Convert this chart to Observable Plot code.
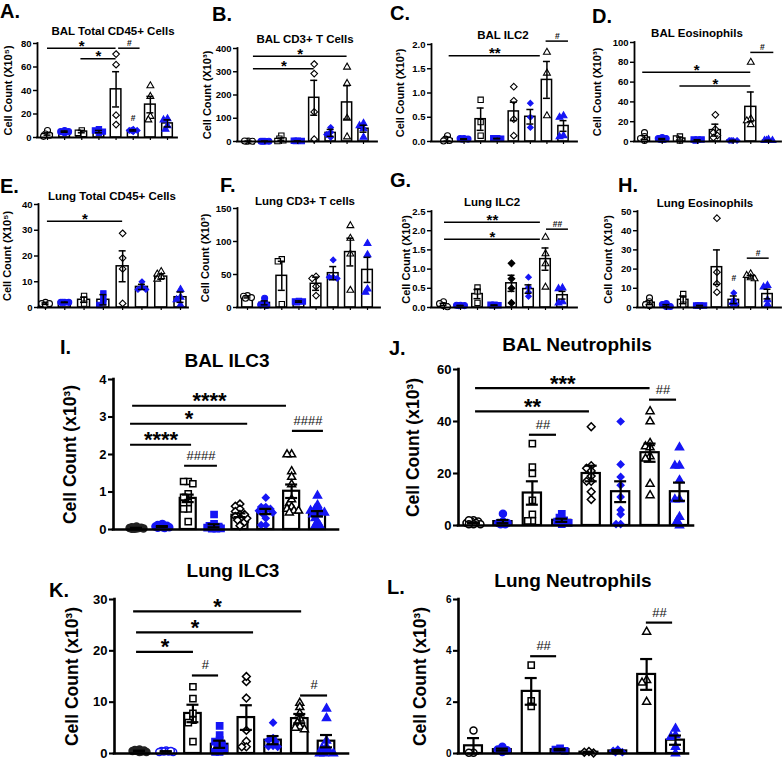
<!DOCTYPE html>
<html><head><meta charset="utf-8">
<script src="https://cdn.jsdelivr.net/npm/d3@7"></script>
<script src="https://cdn.jsdelivr.net/npm/@observablehq/plot@0.6"></script>
<style>
body{margin:0;background:#fff;}
#root{position:relative;width:783px;height:760px;overflow:hidden;background:#fff;}
</style></head><body><div id="root"></div>
<script>
// ---------------- DATA ----------------
const groups = [1,2,3,4,5,6,7,8];

const A_title = "BAL Total CD45+ Cells", A_ylabel = "Cell Count (X10⁵)", A_ticks = [0,20,40,60,80];
const A_mean = [3,5,5,5,41,6,28,12];
const A_sem  = [1,0.5,1,1,15,0.5,7,3];
const A_pts  = [[6,3,2,1],[6,5,4,5],[6,4,3],[7,6,5,4],[71,62,19,11],[6,6,5,6,7],[44,35,18,15],[16,15,10,7]];
const A_sig  = [[1,5,76,"*"],[2.95,5,67,"*"],[5.15,6.4,76,"#"],[6,6,16,"#"]];

const B_title = "BAL CD3+ T Cells", B_ylabel = "Cell Count (X10³)", B_ticks = [0,100,200,300,400];
const B_mean = [1,1,10,2,188,37,168,55];
const B_sem  = [0.5,0.3,5,0.5,75,15,72,15];
const B_pts  = [[2,1,1,2],[1,1,1,1],[25,12,5,2],[3,2,2,3],[333,292,127,10],[60,40,30,18],[320,250,100,20],[78,68,55,18]];
const B_sig  = [[1.3,7,367,"*"],[1.3,5,313,"*"]];

const C_title = "BAL ILC2", C_ylabel = "Cell Count (X10³)", C_ticks = [0,0.5,1,1.5,2];
const C_mean = [0.05,0.05,0.46,0.06,0.62,0.51,1.27,0.32];
const C_sem  = [0.04,0.005,0.23,0.005,0.19,0.15,0.38,0.11];
const C_pts  = [[0.12,0.05,0.02,0.01],[0.06,0.05,0.05,0.06],[0.86,0.4,0.12],[0.07,0.06,0.07,0.06],[1.13,0.84,0.46,0.12],[0.79,0.5,0.29],[1.84,1.41,0.53],[0.53,0.5,0.12,0.1]];
const C_sig  = [[1.1,6.6,1.77,"**"],[6.95,8.3,2.07,"#"]];

const D_title = "BAL Eosinophils", D_ylabel = "Cell Count (X10³)", D_ticks = [0,20,40,60,80,100];
const D_mean = [4,2.5,3,1.5,11.5,1,35,1];
const D_sem  = [2,0.5,1.5,0.3,6,0.2,15,0.3];
const D_pts  = [[9,5,3,1],[3,2,3,2,4],[5,3,1],[2,2,1,2],[27,12.5,9,6,4],[1,1,1,1],[80,23,21,17],[1,1,2,1]];
const D_sig  = [[0.9,7,70,"*"],[3,7,56,"*"],[7,8.3,90,"#"]];

const E_title = "Lung Total CD45+ Cells", E_ylabel = "Cell Count (X10⁵)", E_ticks = [0,10,20,30,40];
const E_mean = [1.5,2,3,3,16,8,12,4];
const E_sem  = [0.3,0.1,1,2,6,1,1,2];
const E_pts  = [[2,1.5,1,1.5],[2,2,2,2],[4.5,3,1.5],[5.5,3.5,1,2],[28.8,19.2,15,1.6],[10,8,7,7],[14,13,12,11],[7,4,1,3]];
const E_sig  = [[1.1,5,33.5,"*"]];

const F_title = "Lung CD3+ T cells", F_ylabel = "Cell Count (X10³)", F_ticks = [0,50,100,150];
const F_mean = [16,7,48,9,36,52,84,57];
const F_sem  = [1.5,3,22,1,10,10,21,19];
const F_pts  = [[18,17,15,14],[14,8,4,3],[73,70,5],[10,9,8,9],[47,44,32,18],[72,46,44,46],[124,105,81,26],[97,80,28,23]];
const F_sig  = [];

const G_title = "Lung ILC2", G_ylabel = "Cell Count (X10³)", G_ticks = [0,0.5,1,1.5,2,2.5];
const G_mean = [0.08,0.05,0.35,0.06,0.63,0.48,1.26,0.32];
const G_sem  = [0.03,0.005,0.12,0.005,0.21,0.11,0.29,0.1];
const G_pts  = [[0.15,0.1,0.05,0.02],[0.06,0.05,0.05,0.06],[0.52,0.42,0.12],[0.07,0.06,0.06,0.07],[1.15,0.75,0.5,0.12],[0.79,0.53,0.4,0.29],[1.83,1.4,1.14,0.53],[0.51,0.49,0.15,0.12]];
const G_sig  = [[1.06,6.7,2.22,"**"],[1.06,6.7,1.78,"*"],[7.06,8.35,2.04,"##"]];

const H_title = "Lung Eosinophils", H_ylabel = "Cell Count (X10³)", H_ticks = [0,10,20,30,40,50];
const H_mean = [2.5,1,4,1,21,4,16,7];
const H_sem  = [1,0.5,2,0.1,9,2,0.7,2.5];
const H_pts  = [[5,3,1.5,1],[2,1.5,0.5,0.5],[7,4,1.5],[1,1,1,1],[46.5,18.4,12.4,8],[7.6,3.8,2,1.7],[17.6,16.7,15,15.5],[11.5,10.7,4,1.7]];
const H_sig  = [[6.8,8.1,25.7,"#"],[6,6,15,"#"]];

const I_title = "BAL ILC3", I_ylabel = "Cell Count (x10³)", I_ticks = [0,1,2,3,4];
const I_mean = [0.04,0.08,0.83,0.1,0.38,0.48,1.02,0.42];
const I_sem  = [0.005,0.01,0.1,0.04,0.05,0.07,0.18,0.07];
const I_pts  = [[0.08,0.05,0.04,0.03,0.02,0.02,0.06,0.04,0.03,0.05],[0.15,0.12,0.1,0.08,0.06,0.05,0.04,0.1,0.06],
  [1.28,1.22,1.28,0.95,0.86,0.72,0.7,0.55,0.55,0.21],[0.4,0.15,0.1,0.08,0.05,0.05,0.03,0.02,0.02],
  [0.68,0.62,0.55,0.48,0.4,0.35,0.3,0.25,0.2,0.1,0.3,0.4],[0.85,0.6,0.55,0.5,0.5,0.45,0.4,0.3,0.12,0.12,0.55,0.6],
  [2.0,2.0,1.55,1.4,1.2,0.7,0.6,0.55,0.5,0.45,0.5,0.8],[0.9,0.65,0.55,0.5,0.45,0.4,0.3,0.2,0.1,0.1,0.5,0.4]];
const I_sig  = [[0.85,6.8,3.3,"****"],[0.77,5.3,2.82,"*"],[0.77,3.13,2.26,"****"],[2.86,4.13,1.7,"####"],[7.03,8.23,2.63,"####"]];

const J_title = "BAL Neutrophils", J_ylabel = "Cell Count (x10³)", J_ticks = [0,20,40,60];
const J_mean = [1,1.5,12.5,2,20,13,28,13];
const J_sem  = [0.2,0.6,4.5,0.6,3,4,3.5,3.5];
const J_pts  = [[2,1.5,1,0.5,1,1.5,0.5,2,0.5],[4.5,1.5,1,0.5,0.5,1],[31.5,22.5,20,9.7,4.3,1.8,1.8],[4.5,3,2,1.5,0.5,1],
  [38,23,22,21,19,17,13,10,17],[40,23.5,18.7,15.5,11,6,4.3,0.5,0.5],[43.9,40,31.7,30.4,30,26.6,25.7,16,11.6],[30,23,23,17.4,10,10,3.3,1.8,0]];
const J_sig  = [[1.07,7,52.8,"***"],[1.07,4.94,43.9,"**"],[2.9,3.82,34.9,"##"],[6.98,7.9,48.4,"##"]];

const K_title = "Lung ILC3", K_ylabel = "Cell Count (x10³)", K_ticks = [0,10,20,30];
const K_mean = [0.5,0.4,7.8,1.8,7,2.6,6.8,2.4];
const K_sem  = [0.05,0.05,1.7,0.7,2.4,0.8,0.9,1.2];
const K_pts  = [[0.8,0.6,0.5,0.4,0.3,0.5,0.7,0.3],[0.6,0.5,0.4,0.3,0.3,0.4,0.5],[13,10.7,7.8,6.5,6,2.3],[5.4,3.6,2.6,1.8,1,0.3,0.3,1.3,2.3],
  [14,15,10.8,4.5,2.4,1.3,1.3],[6,3,2.6,1.4,2.3,1.5,1.3],[9.85,9,7.8,6.8,6,5.2,4.7,5],[8.75,6.9,2.5,1,0,0,0,0.5,1.3]];
const K_sig  = [[0.78,7.07,27.7,"*"],[0.89,5.27,23.6,"*"],[0.89,3.02,19.8,"*"],[2.98,3.96,15.2,"#"],[7.03,8.04,11.3,"#"]];

const L_title = "Lung Neutrophils", L_ylabel = "Cell Count (x10³)", L_ticks = [0,2,4,6];
const L_mean = [0.3,0.15,2.42,0.15,0.05,0.1,3.08,0.52];
const L_sem  = [0.3,0.04,0.52,0.03,0.02,0.03,0.6,0.18];
const L_pts  = [[0.9,0.03,0.03],[0.26,0.16,0.06,0.13],[3.44,2.05,1.84],[0.2,0.15,0.1],[0.08,0.05,0.02],[0.15,0.05,0.05,0.1],[4.74,2.86,2.76,2.01],[0.97,0.71,0.65,0.26,0]];
const L_sig  = [[2.98,3.88,3.79,"##"],[6.99,7.9,5.1,"##"]];

// ---------------- LAYOUT / STYLE ----------------
const BLUE = "#1616f5";
const FONT = "'Liberation Sans', Arial, sans-serif";
const SYM = ["circle","circle","square","square","diamond2","diamond2","triangle","triangle"];
const SYMSCALE = [1,1,1,1,1,0.85,0.85,0.85];

const panels = [
 {id:"A", title:A_title, ylabel:A_ylabel, ticks:A_ticks, mean:A_mean, sem:A_sem, pts:A_pts, sig:A_sig,
  L:37,R:177,b1:47,b8:167,T:43,B:137, tp:[113,34.5], lp:[0,18], labOff:29},
 {id:"B", title:B_title, ylabel:B_ylabel, ticks:B_ticks, mean:B_mean, sem:B_sem, pts:B_pts, sig:B_sig,
  L:237,R:377,b1:248,b8:363,T:48,B:141, tp:[305,42.5], lp:[212,21], labOff:30},
 {id:"C", title:C_title, ylabel:C_ylabel, ticks:C_ticks, mean:C_mean, sem:C_sem, pts:C_pts, sig:C_sig, fmt:".1f",
  L:431,R:577,b1:447,b8:563,T:44,B:141, tp:[503,39], lp:[390,20], labOff:31},
 {id:"D", title:D_title, ylabel:D_ylabel, ticks:D_ticks, mean:D_mean, sem:D_sem, pts:D_pts, sig:D_sig,
  L:634,R:781,b1:644,b8:768,T:42,B:141, tp:[697,36.5], lp:[592,23], labOff:37},
 {id:"E", title:E_title, ylabel:E_ylabel, ticks:E_ticks, mean:E_mean, sem:E_sem, pts:E_pts, sig:E_sig,
  L:38,R:188,b1:45,b8:180,T:204,B:307, tp:[112,200], lp:[0,193], labOff:31},
 {id:"F", title:F_title, ylabel:F_ylabel, ticks:F_ticks, mean:F_mean, sem:F_sem, pts:F_pts, sig:F_sig,
  L:237,R:380,b1:247,b8:367,T:208,B:307, tp:[305,205], lp:[220,192], labOff:32},
 {id:"G", title:G_title, ylabel:G_ylabel, ticks:G_ticks, mean:G_mean, sem:G_sem, pts:G_pts, sig:G_sig, fmt:".1f",
  L:431,R:577,b1:443,b8:562,T:211,B:307, tp:[492,206], lp:[390,187], labOff:25, over:{5:{fill:"black",stroke:"black"}}},
 {id:"H", title:H_title, ylabel:H_ylabel, ticks:H_ticks, mean:H_mean, sem:H_sem, pts:H_pts, sig:H_sig,
  L:637,R:781,b1:649,b8:767,T:211,B:307, tp:[705,207], lp:[618,192], labOff:29},
 {id:"I", title:I_title, ylabel:I_ylabel, ticks:I_ticks, mean:I_mean, sem:I_sem, pts:I_pts, sig:I_sig, big:true,
  L:113,R:338,b1:136,b8:317,T:379,B:529, tp:[227,367], lp:[60,354], labOff:43, over:{1:{fill:"#222",stroke:"#222"}}},
 {id:"J", title:J_title, ylabel:J_ylabel, ticks:J_ticks, mean:J_mean, sem:J_sem, pts:J_pts, sig:J_sig, big:true,
  L:458,R:693,b1:473,b8:679,T:369,B:525, tp:[577,351], lp:[389,355], labOff:45},
 {id:"K", title:K_title, ylabel:K_ylabel, ticks:K_ticks, mean:K_mean, sem:K_sem, pts:K_pts, sig:K_sig, big:true,
  L:114,R:348,b1:139,b8:326,T:599,B:753, tp:[233,577], lp:[49,597], labOff:42,
  over:{1:{fill:"#222",stroke:"#222"},2:{fill:"white",stroke:BLUE}}},
 {id:"L", title:L_title, ylabel:L_ylabel, ticks:L_ticks, mean:L_mean, sem:L_sem, pts:L_pts, sig:L_sig, big:true, tickFont:10,
  L:458,R:688,b1:473,b8:675,T:599,B:753, tp:[573,587], lp:[387,594], labOff:38}
];

// place overlapping points side by side, staying within about the bar's width
function spread(vals, pxY, pxX, r) {
  const order = vals.map((v,i)=>i).sort((a,b)=>vals[b]-vals[a]);
  const placed = [], off = vals.map(()=>0), d = 1.2*r, step = 0.55*d, maxOff = 0.3*pxX;
  const cands = [0];
  for (let k=1; k*step<=maxOff+0.01; k++) { cands.push(-k*step, k*step); }
  for (const i of order) {
    const y = vals[i]*pxY;
    let best = 0, bestD = -1;
    for (const o of cands) {
      const md = placed.length ? Math.min(...placed.map(p=>Math.hypot(p.x-o,p.y-y))) : Infinity;
      if (md >= d) { best = o; bestD = Infinity; break; }
      if (md > bestD) { bestD = md; best = o; }
    }
    off[i] = best/pxX; placed.push({x:best,y});
  }
  return off;
}

const root = document.getElementById("root");

for (const p of panels) {
  const big = !!p.big;
  const sp = (p.b8-p.b1)/7;
  const x0 = 1-(p.b1-p.L)/sp, x1 = 8+(p.R-p.b8)/sp;
  const ymax = p.ticks[p.ticks.length-1];
  const mL=60, mR=10, mT=40, mB=10;
  const W = p.R-p.L+mL+mR, H = p.B-p.T+mT+mB;
  const bw = 0.62, cap = (big?6:3.5)/sp;
  const sw = big?2.2:1.5, axW = big?2.6:1.8;
  const r = big?3.5:3;
  const pxY = (p.B-p.T)/ymax;
  const bars = groups.map((g,i)=>({g, m:p.mean[i], s:p.sem[i]}));
  const dotMarks = groups.map((g,i)=>{
    const vals = p.pts[i];
    const off = spread(vals, pxY, sp, r);
    const data = vals.map((v,j)=>({x:g+off[j], v}));
    const odd = g%2===1;
    let st = odd ? {fill:"white", stroke:"black"} : {fill:BLUE, stroke:BLUE};
    if (p.over && p.over[g]) st = p.over[g];
    return Plot.dot(data, {x:"x", y:"v", symbol:SYM[i], r:r*SYMSCALE[i], fill:st.fill, stroke:st.stroke, strokeWidth: big?1.5:1.1});
  });
  const lines = p.sig.filter(s=>s[0]!==s[1]).map(s=>({x1:s[0],x2:s[1],y:s[2],label:s[3]}));
  const solo  = p.sig.filter(s=>s[0]===s[1]).map(s=>({x:s[0],y:s[2],label:s[3]}));
  const stars = lines.filter(d=>d.label.includes("*"));
  const hashes = lines.filter(d=>d.label.includes("#"));
  const marks = [
    Plot.rect(bars, {x1:d=>d.g-bw/2, x2:d=>d.g+bw/2, y1:()=>0, y2:"m", fill:"white", stroke:"black", strokeWidth:sw}),
    ...dotMarks,
    Plot.ruleX(bars, {x:"g", y1:d=>Math.max(0,d.m-d.s), y2:d=>d.m+d.s, stroke:"black", strokeWidth:sw}),
    Plot.ruleY(bars, {y:d=>d.m+d.s, x1:d=>d.g-cap, x2:d=>d.g+cap, stroke:"black", strokeWidth:sw}),
    Plot.ruleY(bars, {y:d=>Math.max(0,d.m-d.s), x1:d=>d.g-cap, x2:d=>d.g+cap, stroke:"black", strokeWidth:sw}),
    Plot.axisY({ticks:p.ticks, tickSize:big?5:4, tickPadding:2, strokeWidth:axW*0.8,
      tickFormat: p.fmt ? d3.format(p.fmt) : d3.format("d"), fontSize: p.tickFont || (big?13:9.5), fontWeight:"bold", label:null}),
    Plot.ruleX([x0], {y1:()=>0, y2:()=>ymax, stroke:"black", strokeWidth:axW, strokeLinecap:"square"}),
    Plot.ruleY([0], {x1:()=>x0, x2:()=>x1, stroke:"black", strokeWidth:axW, strokeLinecap:"square"}),
    Plot.ruleY(lines, {y:"y", x1:"x1", x2:"x2", stroke:"black", strokeWidth:big?2.2:1.5}),
    Plot.text(stars, {x:d=>(d.x1+d.x2)/2, y:"y", text:"label", lineAnchor:"bottom", dy:big?2.6:2.5,
      fontSize:big?22:15, fontWeight:"bold", fill:"black"}),
    Plot.text(hashes, {x:d=>(d.x1+d.x2)/2, y:"y", text:"label", lineAnchor:"bottom", dy:big?-6:-2,
      fontSize:big?13:8.5, fontWeight:big?"normal":"bold", fill:"#111"}),
    Plot.text(solo, {x:"x", y:"y", text:"label", lineAnchor:"middle", fontSize:8.5, fontWeight:"bold", fill:"#111"}),
    Plot.text([p.ylabel], {text:d=>d, frameAnchor:"left", textAnchor:"middle", lineAnchor:"middle", rotate:-90, dx:-p.labOff,
      fontSize:big?17.5:11, fontWeight:"bold", fill:"black"})
  ];
  if (!big) marks.push(Plot.axisX({ticks:groups, tickSize:3, tickFormat:()=>"", strokeWidth:1.2, label:null}));
  const svg = Plot.plot({
    width:W, height:H, marginLeft:mL, marginRight:mR, marginTop:mT, marginBottom:mB,
    x:{domain:[x0,x1], axis:null},
    y:{domain:[0,ymax], axis:null},
    style:{background:"transparent", overflow:"visible", fontFamily:FONT, color:"black"},
    marks
  });
  svg.style.position="absolute";
  svg.style.left=(p.L-mL)+"px";
  svg.style.top=(p.T-mT)+"px";
  root.appendChild(svg);
}

// panel letters and titles
const ov = d3.select(root).append("svg")
  .attr("width",783).attr("height",760)
  .style("position","absolute").style("left","0px").style("top","0px").style("pointer-events","none")
  .attr("font-family", FONT).attr("font-weight","bold");
for (const p of panels) {
  ov.append("text").attr("x",p.lp[0]).attr("y",p.lp[1]).attr("font-size",20).text(p.id+".");
  ov.append("text").attr("x",p.tp[0]).attr("y",p.tp[1]).attr("text-anchor","middle")
    .attr("font-size",p.big?19:11.5).text(p.title);
}
</script></body></html>
